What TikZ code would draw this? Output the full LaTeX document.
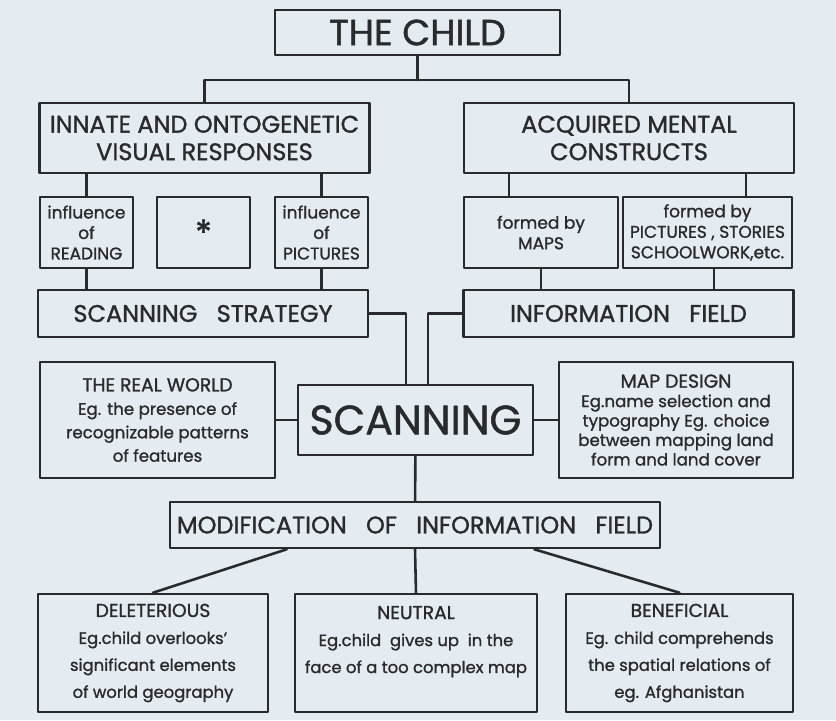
\documentclass[tikz,border=0pt]{standalone}
\usepackage{fontspec}
\setmainfont{Poppins}[FakeBold=1.2]
\definecolor{paper}{RGB}{229,236,241}
\definecolor{ink}{RGB}{40,42,45}

\begin{document}
\begin{tikzpicture}[line cap=round,line join=round,x=0.03cm,y=-0.03cm,
  box/.style={draw=ink,line width=2.2pt,inner sep=2pt,align=center,text=ink},
  wire/.style={draw=ink,line width=2.2pt},
  big/.style={font=\fontsize{20.5}{23.5}\selectfont},
  small/.style={font=\fontsize{14.5}{17.5}\selectfont},
  body/.style={font=\fontsize{14.2}{20}\selectfont},
  head/.style={font=\fontsize{16}{20}\selectfont}]
\fill[paper] (0,0) rectangle (836,720);
\useasboundingbox (0,0) rectangle (836,720);
% top of the tree
\node[box,minimum width=8.55cm,minimum height=1.35cm,font=\fontsize{31}{34}\selectfont] (child) at (417.5,32.5) {THE CHILD};
\node[box,big,minimum width=9.9cm,minimum height=2.1cm] (innate) at (204.5,138) {INNATE AND ONTOGENETIC\\VISUAL RESPONSES};
\node[box,big,minimum width=9.9cm,minimum height=2.1cm] (acquired) at (629,138) {ACQUIRED MENTAL\\CONSTRUCTS};
% influences
\node[box,small,minimum width=2.79cm,minimum height=2.13cm] (reading) at (86.5,232.5) {influence\\of\\READING};
\node[box,minimum width=2.79cm,minimum height=2.13cm,font=\fontsize{30}{30}\selectfont] (star) at (203.5,232.5) {*};
\node[box,small,minimum width=2.79cm,minimum height=2.13cm] (pictures) at (321.5,232.5) {influence\\of\\PICTURES};
\node[box,small,minimum width=4.62cm,minimum height=2.13cm] (maps) at (541,232.5) {formed by\\MAPS};
\node[box,small,minimum width=5.07cm,minimum height=2.13cm] (stories) at (707.5,232.5) {formed by\\PICTURES , STORIES\\SCHOOLWORK,etc.};
\node[box,big,minimum width=9.9cm,minimum height=1.41cm] (strategy) at (203,313.5) {SCANNING\hspace{0.8em}STRATEGY};
\node[box,big,minimum width=9.9cm,minimum height=1.41cm] (field) at (628.5,313.5) {INFORMATION\hspace{0.8em}FIELD};
% middle row
\node[box,body,minimum width=7.05cm,minimum height=3.48cm] (realworld) at (157.5,420) {{\fontsize{16}{20}\selectfont THE REAL WORLD}\\Eg. the presence of\\recognizable patterns\\of features};
\node[box,minimum width=7.05cm,minimum height=2.1cm,font=\fontsize{35}{38}\selectfont] (scanning) at (415.5,420) {SCANNING};
\node[box,font=\fontsize{14.2}{16.6}\selectfont,minimum width=7.02cm,minimum height=3.48cm] (mapdesign) at (676,420) {{\fontsize{16}{16.6}\selectfont MAP DESIGN}\\Eg.name selection and\\typography Eg. choice\\between mapping land\\form and land cover};
\node[box,big,minimum width=14.7cm,minimum height=1.38cm] (modif) at (415,525) {MODIFICATION\hspace{0.8em}OF\hspace{0.8em}INFORMATION\hspace{0.8em}FIELD};
% outcomes
\node[box,font=\fontsize{14}{23}\selectfont,minimum width=6.9cm,minimum height=3.54cm] (delet) at (153,653) {{\fontsize{16}{23}\selectfont DELETERIOUS}\\Eg.child overlooks'\\significant elements\\of world geography};
\node[box,font=\fontsize{14}{23}\selectfont,minimum width=7.26cm,minimum height=3.54cm] (neutral) at (416,653) {{\fontsize{16}{23}\selectfont NEUTRAL}\\Eg.child\ \ gives up\ \ in the\\face of a too complex map\\\mbox{}};
\node[box,font=\fontsize{14}{23}\selectfont,minimum width=6.81cm,minimum height=3.54cm] (benef) at (679.5,653) {{\fontsize{16}{23}\selectfont BENEFICIAL}\\Eg. child comprehends\\the spatial relations of\\eg. Afghanistan};
% connectors
\coordinate (split) at (417.5,80);
\draw[wire] (child.south) -- (split);
\draw[wire] (innate.north) |- (split) -| (acquired.north);
\draw[wire] (reading.north) -- (reading.north |- innate.south);
\draw[wire] (pictures.north) -- (pictures.north |- innate.south);
\draw[wire] ([xshift=-0.96cm]maps.north) -- ([xshift=-0.96cm]maps.north |- acquired.south);
\draw[wire] ([xshift=1.15cm]stories.north) -- ([xshift=1.15cm]stories.north |- acquired.south);
\draw[wire] (reading.south) -- (reading.south |- strategy.north);
\draw[wire] (pictures.south) -- (pictures.south |- strategy.north);
\draw[wire] (maps.south) -- (maps.south |- field.north);
\draw[wire] ([xshift=0.2cm]stories.south) -- ([xshift=0.2cm]stories.south |- field.north);
\draw[wire] (strategy.east) -| ([xshift=-0.29cm]scanning.north);
\draw[wire] (field.west) -| ([xshift=0.37cm]scanning.north);
\draw[wire] (realworld) -- (scanning);
\draw[wire] (scanning) -- (mapdesign);
\draw[wire] (scanning) -- (modif);
\draw[wire] ([xshift=3.54cm]modif.south west) -- (delet.north);
\draw[wire] (modif.south) -- (neutral.north);
\draw[wire] ([xshift=-3.81cm]modif.south east) -- (benef.north);
\end{tikzpicture}
\end{document}
